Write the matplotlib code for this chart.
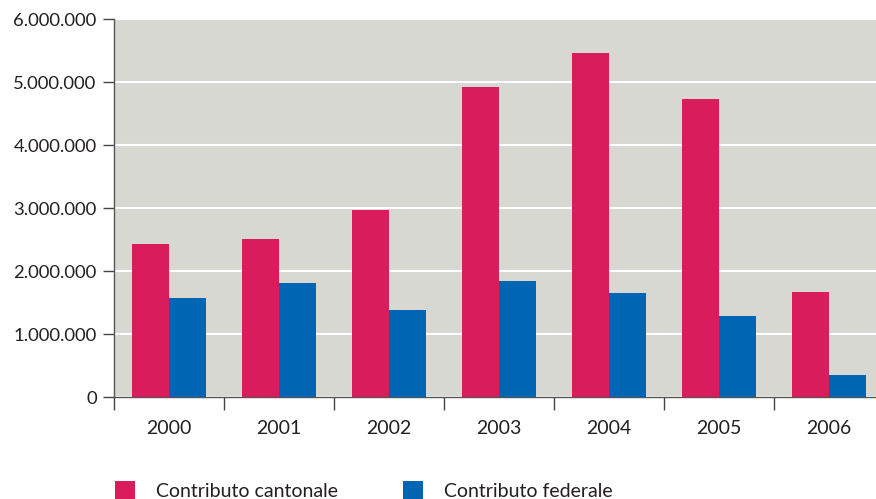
import matplotlib
matplotlib.use("Agg")
import matplotlib.pyplot as plt
import numpy as np
from matplotlib.ticker import FuncFormatter, MultipleLocator

years = ["2000", "2001", "2002", "2003", "2004", "2005", "2006"]
cantonale = [2440000, 2520000, 2970000, 4920000, 5470000, 4735000, 1670000]
federale = [1570000, 1820000, 1385000, 1850000, 1655000, 1290000, 350000]
series_names = ["Contributo cantonale", "Contributo federale"]

RED = "#d91d5c"
BLUE = "#0066b3"
BG = "#d8d8d3"
TXT = "#231f20"

plt.rcParams['font.family'] = ['Lato', 'DejaVu Sans']

W, H = 876, 499
fig = plt.figure(figsize=(W / 100, H / 100), dpi=100)
left, right, top, bottom = 114, 876, 19.3, 397.3
ax = fig.add_axes([left / W, 1 - bottom / H, (right - left) / W, (bottom - top) / H])
ax.set_facecolor(BG)

x = np.arange(len(years))
bw = 0.34
b1 = ax.bar(x - bw / 2, cantonale, bw, color=RED, zorder=3, label=series_names[0])
b2 = ax.bar(x + bw / 2, federale, bw, color=BLUE, zorder=3, label=series_names[1])

ax.set_ylim(0, 6000000)
ax.set_xlim(-0.5, -0.5 + (right - left) / 110)
ax.yaxis.set_major_locator(MultipleLocator(1000000))
ax.yaxis.set_major_formatter(FuncFormatter(lambda v, p: f"{int(v):,}".replace(",", ".")))
ax.grid(axis='y', color='white', linewidth=1.5, zorder=1)
ax.set_axisbelow(True)

fs = 14
ax.set_xticks(x)
ax.set_xticklabels(years)
ax.set_xticks(np.arange(len(years)) - 0.5, minor=True)
ax.tick_params(axis='x', which='major', length=0, pad=16, labelsize=fs, labelcolor=TXT)
ax.tick_params(axis='x', which='minor', length=9, width=1, color='#444444', direction='out')
ax.tick_params(axis='y', length=8, width=1, color='#444444', pad=4.5, labelsize=13.3, labelcolor=TXT)

for s in ['top', 'right']:
    ax.spines[s].set_visible(False)
for s in ['left', 'bottom']:
    ax.spines[s].set_color('#555555')
    ax.spines[s].set_linewidth(1)

fpx = fs * 100 / 72
for h, name, x0 in [(b1, series_names[0], 115), (b2, series_names[1], 403)]:
    fig.legend(handles=[h], labels=[name], loc='upper left',
               bbox_to_anchor=(x0 / W, 1 - 481 / H), frameon=False, fontsize=fs,
               handlelength=20 / fpx, handleheight=20 / fpx, handletextpad=21 / fpx,
               borderpad=0, borderaxespad=0, labelcolor=TXT)

fig.savefig("out.png", dpi=100)
